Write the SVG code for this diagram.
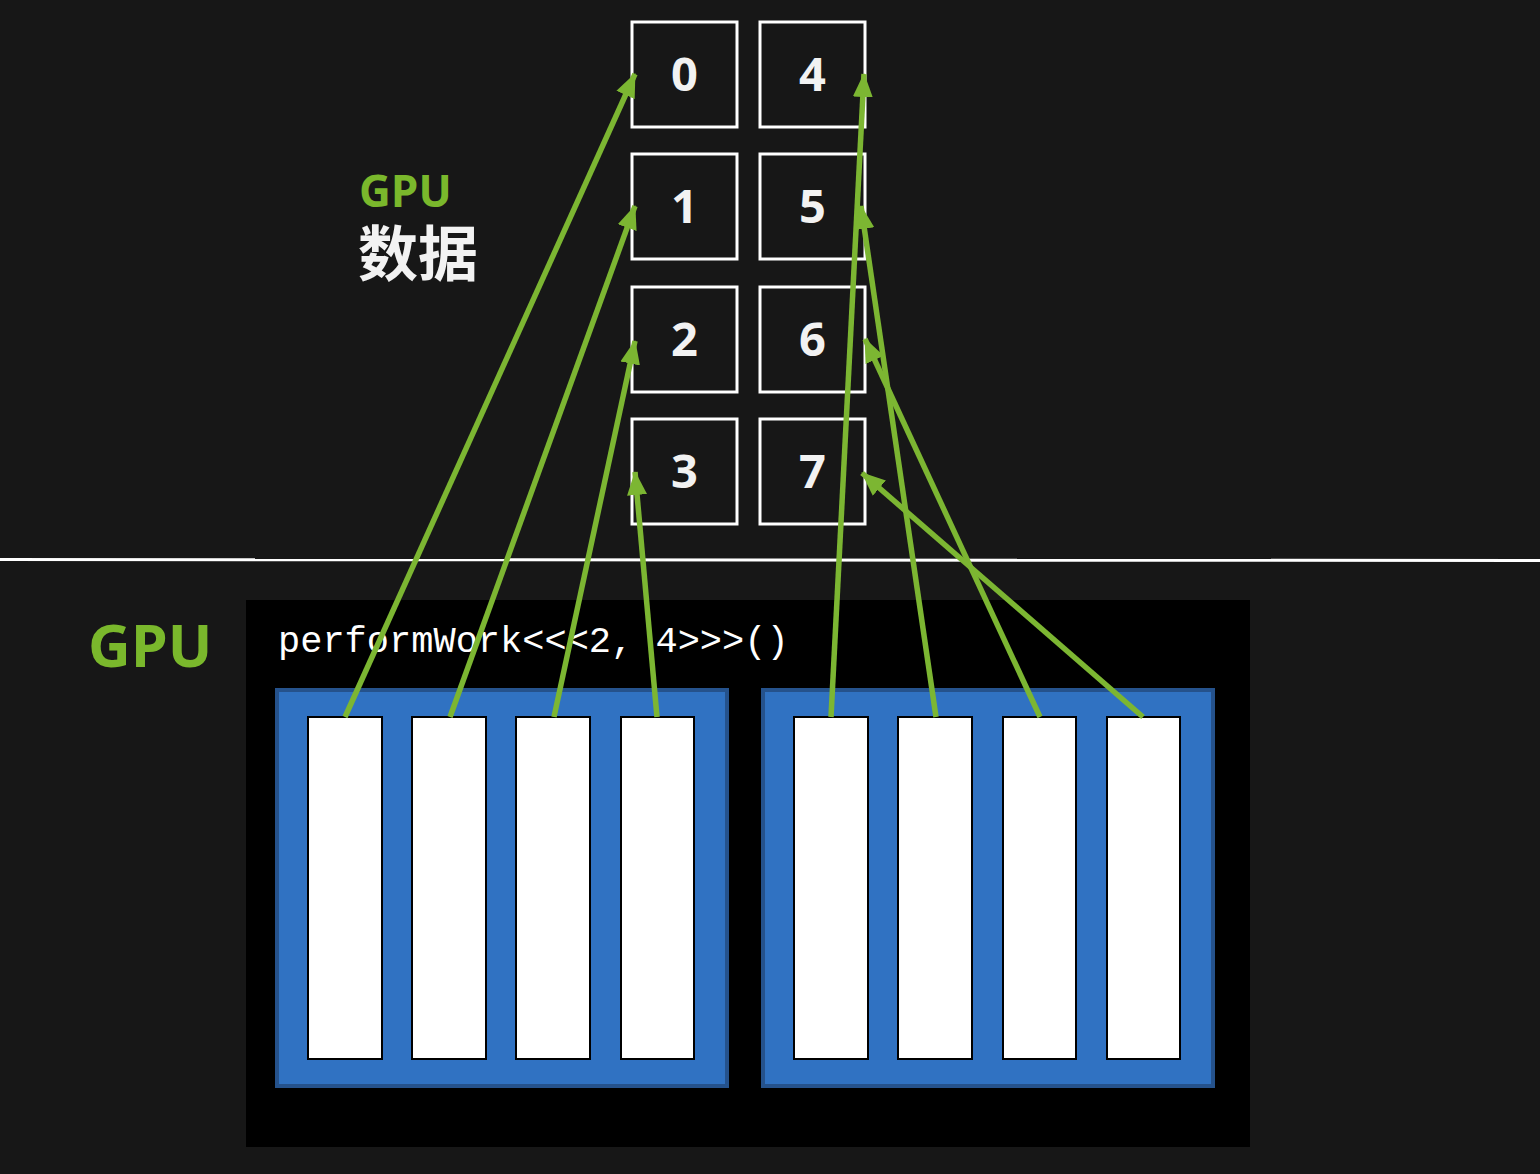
<svg xmlns="http://www.w3.org/2000/svg" width="1540" height="1174" viewBox="0 0 1540 1174">
<style>
.box{fill:#171717;stroke:#ffffff;stroke-width:3}
.num{font-family:"Open Sans","DejaVu Sans",sans-serif;font-weight:bold;font-size:47px;fill:#f2f2f2;text-anchor:middle}
.blk{fill:#3072C2;stroke:#25528C;stroke-width:4}
.thr{fill:#ffffff;stroke:#000000;stroke-width:2}
.con{stroke:#7CB632;stroke-width:5.5;fill:none;marker-end:url(#ah)}
</style>
<defs>
<marker id="ah" markerUnits="userSpaceOnUse" markerWidth="26" markerHeight="22" refX="23" refY="10" orient="auto" viewBox="0 0 26 20">
<path d="M0,0 L24,10 L0,20 Z" fill="#7CB632"/>
</marker>
</defs>
<rect x="0" y="0" width="1540" height="1174" fill="#171717"/>
<line x1="0" y1="559.5" x2="1540" y2="560.5" stroke="#ffffff" stroke-width="3"/>
<g id="label-gpu-data">
<text x="359" y="207" font-family="Open Sans,DejaVu Sans,sans-serif" font-weight="bold" font-size="44" fill="#7AB82C">GPU</text>
<text x="358" y="276" font-family="Noto Sans CJK SC,sans-serif" font-weight="bold" font-size="60" fill="#f2f2f2">数据</text>
</g>
<g id="label-gpu">
<text x="88" y="667" font-family="Open Sans,DejaVu Sans,sans-serif" font-weight="bold" font-size="59" fill="#7AB82C">GPU</text>
</g>
<g id="d0"><rect class="box" x="632" y="22" width="105" height="105"/><text class="num" x="684.5" y="91">0</text></g>
<g id="d1"><rect class="box" x="632" y="154" width="105" height="105"/><text class="num" x="684.5" y="223">1</text></g>
<g id="d2"><rect class="box" x="632" y="287" width="105" height="105"/><text class="num" x="684.5" y="356">2</text></g>
<g id="d3"><rect class="box" x="632" y="419" width="105" height="105"/><text class="num" x="684.5" y="488">3</text></g>
<g id="d4"><rect class="box" x="760" y="22" width="105" height="105"/><text class="num" x="812.5" y="91">4</text></g>
<g id="d5"><rect class="box" x="760" y="154" width="105" height="105"/><text class="num" x="812.5" y="223">5</text></g>
<g id="d6"><rect class="box" x="760" y="287" width="105" height="105"/><text class="num" x="812.5" y="356">6</text></g>
<g id="d7"><rect class="box" x="760" y="419" width="105" height="105"/><text class="num" x="812.5" y="488">7</text></g>
<g id="gpu">
<rect x="246" y="600" width="1004" height="547" fill="#000000"/>
<text x="278" y="652" font-family="Liberation Mono,Courier New,monospace" font-size="37" fill="#ffffff">performWork&lt;&lt;&lt;2, 4&gt;&gt;&gt;()</text>
</g>
<g id="block0">
<rect class="blk" x="277" y="690" width="450" height="396"/>
<rect class="thr" x="308" y="717" width="74" height="342"/>
<rect class="thr" x="412" y="717" width="74" height="342"/>
<rect class="thr" x="516" y="717" width="74" height="342"/>
<rect class="thr" x="621" y="717" width="73" height="342"/>
</g>
<g id="block1">
<rect class="blk" x="763" y="690" width="450" height="396"/>
<rect class="thr" x="794" y="717" width="74" height="342"/>
<rect class="thr" x="898" y="717" width="74" height="342"/>
<rect class="thr" x="1003" y="717" width="73" height="342"/>
<rect class="thr" x="1107" y="717" width="73" height="342"/>
</g>
<g id="connectors">
<line class="con" x1="345" y1="717" x2="635" y2="74"/>
<line class="con" x1="450" y1="717" x2="635" y2="206"/>
<line class="con" x1="554" y1="717" x2="635" y2="341"/>
<line class="con" x1="657" y1="717" x2="635" y2="472"/>
<line class="con" x1="831" y1="717" x2="864" y2="74"/>
<line class="con" x1="936" y1="717" x2="861" y2="206"/>
<line class="con" x1="1040" y1="717" x2="865" y2="339"/>
<line class="con" x1="1143" y1="717" x2="862" y2="473"/>
</g>
</svg>
